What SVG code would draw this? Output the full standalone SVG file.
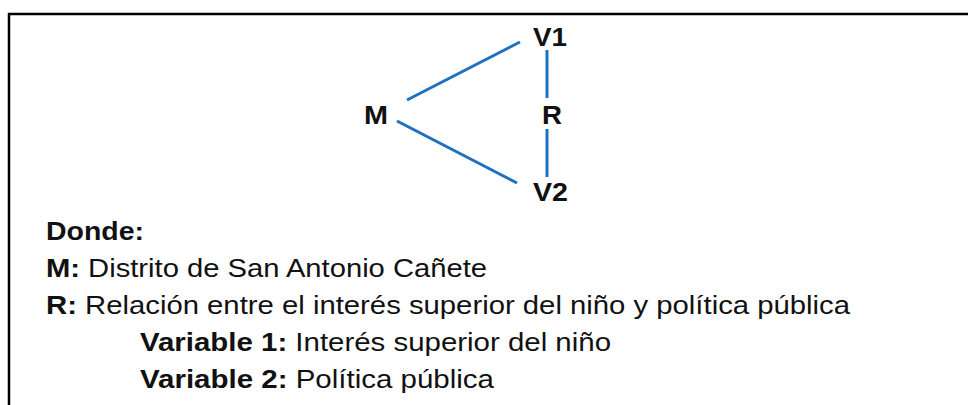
<svg xmlns="http://www.w3.org/2000/svg" width="968" height="405" viewBox="0 0 968 405">
<style>
.t{font-family:"Liberation Sans",Arial,sans-serif;font-size:26px;fill:#111}
.n{font-size:26px}
.b{font-weight:bold}
.c{stroke:#1f70c1;stroke-width:3;fill:none}
</style>
<rect width="968" height="405" fill="#fff"/>
<path d="M9,405 V14 H968" fill="none" stroke="#000" stroke-width="2.5"/>
<g id="connectors">
<line class="c" x1="407" y1="100" x2="520" y2="42"/>
<line class="c" x1="397" y1="121" x2="517" y2="183"/>
<line class="c" x1="547" y1="50" x2="547" y2="98"/>
<line class="c" x1="547" y1="129" x2="547" y2="177"/>
</g>
<g id="V1"><text class="t b n" x="533" y="46" textLength="34" lengthAdjust="spacingAndGlyphs">V1</text></g>
<g id="M"><text class="t b n" x="364" y="124" textLength="24" lengthAdjust="spacingAndGlyphs">M</text></g>
<g id="R"><text class="t b n" x="542" y="124" textLength="20" lengthAdjust="spacingAndGlyphs">R</text></g>
<g id="V2"><text class="t b n" x="533" y="201" textLength="35" lengthAdjust="spacingAndGlyphs">V2</text></g>
<g id="legend">
<text class="t b" x="46" y="240" textLength="98" lengthAdjust="spacingAndGlyphs">Donde:</text>
<text class="t" x="46" y="277" textLength="441" lengthAdjust="spacingAndGlyphs"><tspan class="b">M:</tspan> Distrito de San Antonio Cañete</text>
<text class="t" x="46" y="314" textLength="804" lengthAdjust="spacingAndGlyphs"><tspan class="b">R:</tspan> Relación entre el interés superior del niño y política pública</text>
<text class="t" x="140" y="351" textLength="471" lengthAdjust="spacingAndGlyphs"><tspan class="b">Variable 1:</tspan> Interés superior del niño</text>
<text class="t" x="140" y="388" textLength="354" lengthAdjust="spacingAndGlyphs"><tspan class="b">Variable 2:</tspan> Política pública</text>
</g>
</svg>
